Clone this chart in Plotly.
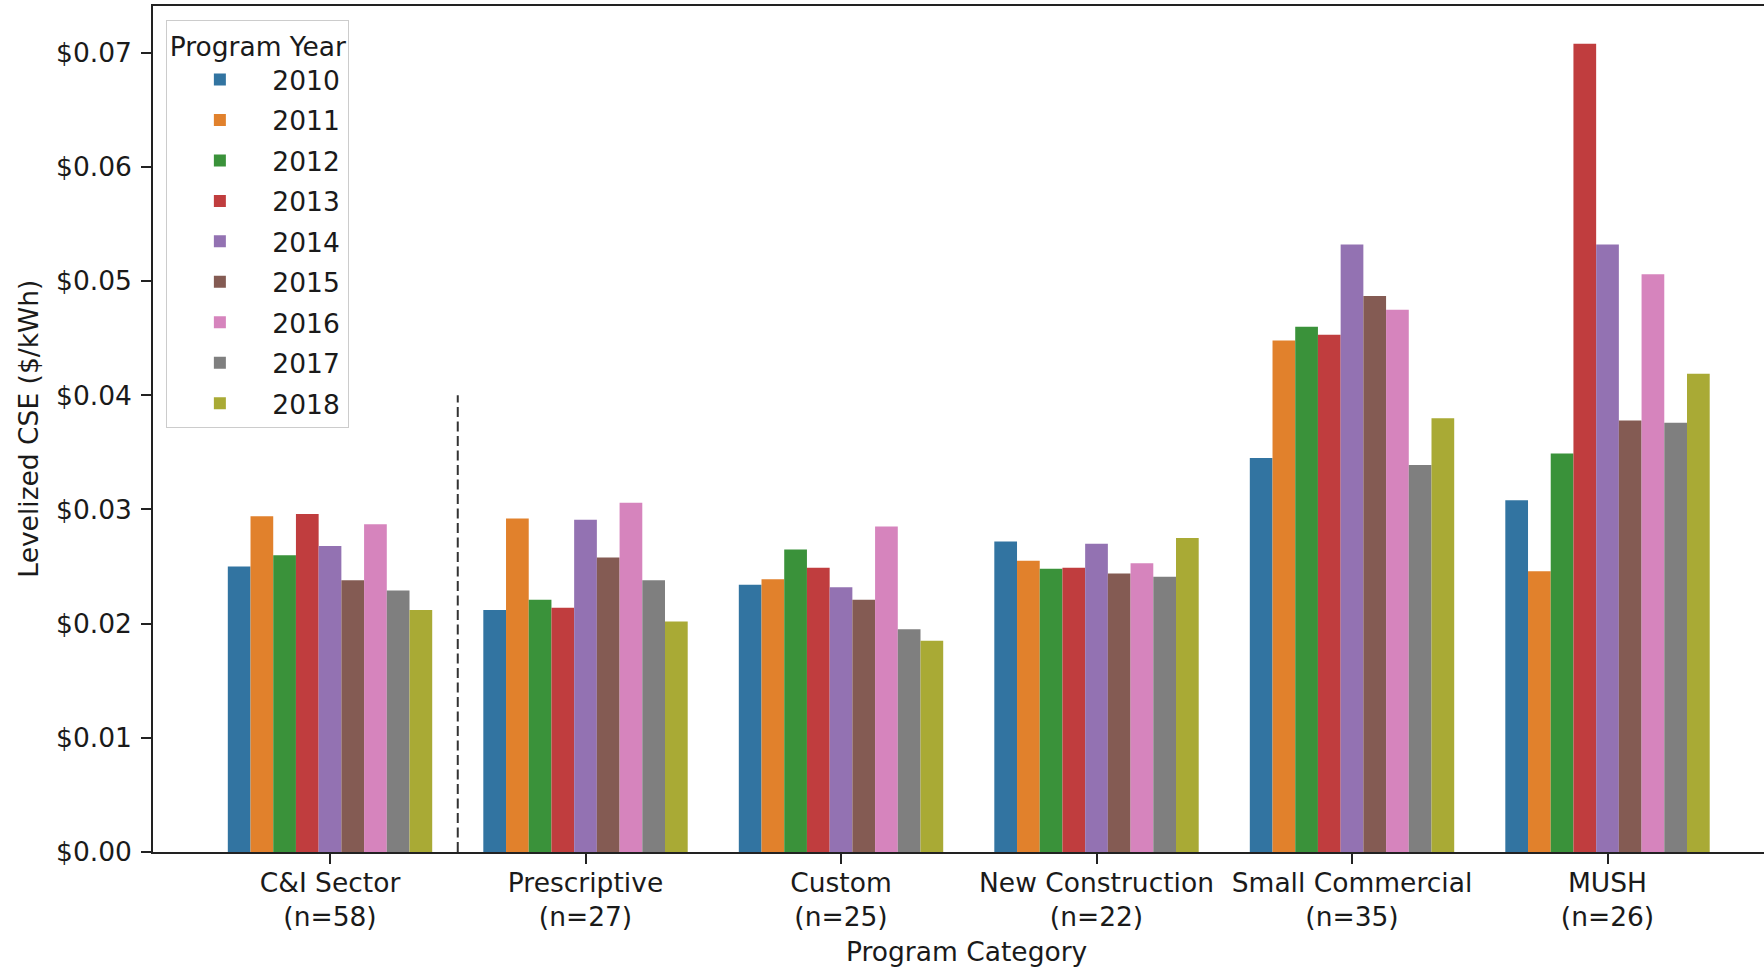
import plotly.graph_objects as go

# Program categories and their sample sizes
categories = ["C&I Sector", "Prescriptive", "Custom", "New Construction",
              "Small Commercial", "MUSH"]
sample_sizes = [58, 27, 25, 22, 35, 26]

# Levelized cost of saved energy ($/kWh) by program year
years = ["2010", "2011", "2012", "2013", "2014", "2015", "2016", "2017", "2018"]
cse_2010 = [0.0250, 0.0212, 0.0234, 0.0272, 0.0345, 0.0308]
cse_2011 = [0.0294, 0.0292, 0.0239, 0.0255, 0.0448, 0.0246]
cse_2012 = [0.0260, 0.0221, 0.0265, 0.0248, 0.0460, 0.0349]
cse_2013 = [0.0296, 0.0214, 0.0249, 0.0249, 0.0453, 0.0708]
cse_2014 = [0.0268, 0.0291, 0.0232, 0.0270, 0.0532, 0.0532]
cse_2015 = [0.0238, 0.0258, 0.0221, 0.0244, 0.0487, 0.0378]
cse_2016 = [0.0287, 0.0306, 0.0285, 0.0253, 0.0475, 0.0506]
cse_2017 = [0.0229, 0.0238, 0.0195, 0.0241, 0.0339, 0.0376]
cse_2018 = [0.0212, 0.0202, 0.0185, 0.0275, 0.0380, 0.0419]
series = [cse_2010, cse_2011, cse_2012, cse_2013, cse_2014,
          cse_2015, cse_2016, cse_2017, cse_2018]

# Y axis ticks
y_tickvals = [0.00, 0.01, 0.02, 0.03, 0.04, 0.05, 0.06, 0.07]
y_ticktext = ["$0.00", "$0.01", "$0.02", "$0.03", "$0.04", "$0.05", "$0.06", "$0.07"]

# Separator between the sector total and its sub-categories
divider_x = 0.5
divider_top = 0.04

colors = ["#3274a1", "#e1812c", "#3a923a", "#c03d3e", "#9372b2",
          "#845b53", "#d684bd", "#7f7f7f", "#a9aa35"]

FONT = "DejaVu Sans"
TXT = "#1a1a1a"
FS = 26.5

x_labels = [f"{c}<br>(n={n})" for c, n in zip(categories, sample_sizes)]

fig = go.Figure()
for year, vals, col in zip(years, series, colors):
    fig.add_trace(go.Bar(
        x=x_labels, y=vals, name=year, legendgroup=year,
        marker=dict(color=col, line=dict(width=0)),
    ))

fig.add_shape(type="line", xref="x", yref="y",
              x0=divider_x, x1=divider_x, y0=0, y1=divider_top,
              line=dict(color="#333333", width=2, dash="10px,4.5px"))

fig.add_annotation(text="Program Category", xref="paper", yref="paper",
                   x=0.5052, y=-0.1174, xanchor="center", yanchor="middle",
                   showarrow=False, font=dict(family=FONT, size=FS, color=TXT))
fig.add_annotation(text="Levelized CSE ($/kWh)", xref="paper", yref="paper",
                   x=-0.0778, y=0.5, xanchor="center", yanchor="middle",
                   textangle=-90, showarrow=False,
                   font=dict(family=FONT, size=FS, color=TXT))

fig.update_layout(
    width=1764, height=968,
    margin=dict(l=153, r=0, t=6, b=116, pad=0),
    paper_bgcolor="white", plot_bgcolor="white",
    font=dict(family=FONT, size=FS, color=TXT),
    barmode="group", bargap=0.2, bargroupgap=0,
    showlegend=True,
    legend=dict(
        title=dict(text="Program Year", side="top center",
                   font=dict(family=FONT, size=FS, color=TXT)),
        x=0.0083, y=0.983, xanchor="left", yanchor="top",
        bgcolor="rgba(255,255,255,0.8)", bordercolor="#cccccc", borderwidth=1,
        font=dict(family=FONT, size=FS, color=TXT),
        itemwidth=95, tracegroupgap=3,
    ),
    xaxis=dict(
        range=[-0.6928, 5.6125], showgrid=False, zeroline=False,
        showline=True, linecolor="#222222", linewidth=1.6, mirror=True,
        ticks="outside", ticklen=10, tickwidth=1.6, tickcolor="#222222",
        ticklabelstandoff=-4,
        tickfont=dict(family=FONT, size=FS, color=TXT),
    ),
    yaxis=dict(
        range=[0, 0.0741], showgrid=False, zeroline=False,
        showline=True, linecolor="#222222", linewidth=1.6, mirror=False,
        ticks="outside", ticklen=10, tickwidth=1.6, tickcolor="#222222",
        tickvals=y_tickvals, ticktext=y_ticktext, ticklabelstandoff=4,
        tickfont=dict(family=FONT, size=FS, color=TXT),
    ),
)

fig.write_html("out.html")
